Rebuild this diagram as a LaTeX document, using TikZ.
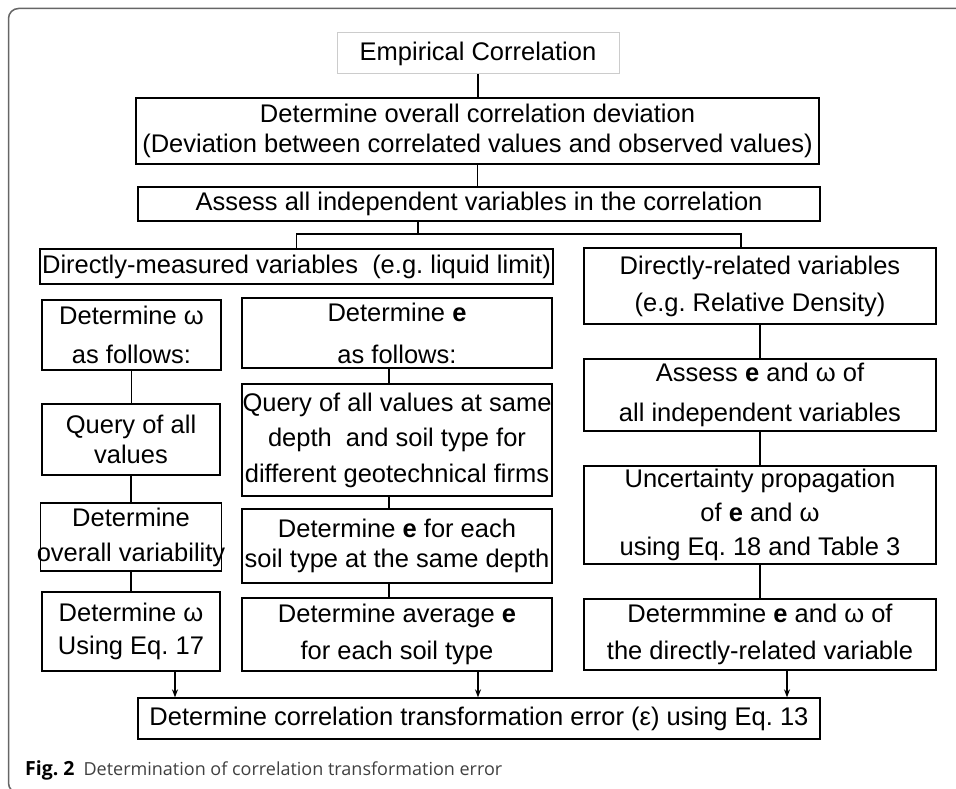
\documentclass[tikz,border=0pt]{standalone}
\usepackage{fontspec}
\setmainfont{Liberation Sans}
\newfontfamily\capfont{Open Sans}
\usetikzlibrary{arrows.meta}
\frenchspacing

\begin{document}
\begin{tikzpicture}[x=1pt,y=-1pt,
  box/.style={draw, line width=1.3pt, inner sep=0pt, align=center, font=\fontsize{25.5}{35}\selectfont},
  lh/.style={font=\fontsize{25.5}{#1}\selectfont},
  link/.style={line width=1.3pt},
  arr/.style={line width=1.3pt, -{Stealth[length=8pt,width=6pt]}}]
\useasboundingbox (0,0) rectangle (956,789);
\draw[line width=1.5pt, black!60, rounded corners=10pt] (990,8.5) -- (8.5,8.5) -- (8.5,793) -- (990,793);

\node[box, draw=black!20, line width=1pt, minimum width=282pt, minimum height=41pt] (emp) at (478,53.5) {Empirical Correlation};
\node[box, lh=30, minimum width=683pt, minimum height=66pt] (dev) at (477.5,131) {Determine overall correlation deviation\\(Deviation between correlated values and observed values)};
\node[box, minimum width=682pt, minimum height=34pt] (assess) at (479,204) {Assess all independent variables in the correlation};
\node[box, minimum width=513pt, minimum height=35pt] (meas) at (296.5,266.5) {Directly-measured variables\ \ (e.g. liquid limit)};
\node[box, lh=37, minimum width=352pt, minimum height=76pt] (rel) at (760,286) {Directly-related variables\\(e.g. Relative Density)};

\node[box, lh=39, minimum width=179pt, minimum height=70pt] (detw) at (131.5,335) {Determine ω\\as follows:};
\node[box, lh=30, minimum width=178pt, minimum height=71pt] (qryw) at (131,439.5) {Query of all\\values};
\node[box, lh=35, inner xsep=-4pt, minimum width=178pt, minimum height=68pt] (varw) at (131,537) {Determine\\overall variability};
\node[box, lh=33, minimum width=178pt, minimum height=79pt] (eqw) at (131,631.5) {Determine ω\\Using Eq. 17};

\node[box, lh=42, minimum width=310pt, minimum height=70pt] (dete) at (397,333) {Determine \textbf{e}\\as follows:};
\node[box, lh=35.5, minimum width=310pt, minimum height=112pt] (qrye) at (397,440) {Query of all values at same\\depth\ \ and soil type for\\different geotechnical firms};
\node[box, lh=30, minimum width=310pt, minimum height=74pt] (eache) at (397,546) {Determine \textbf{e} for each\\soil type at the same depth};
\node[box, lh=37, minimum width=310pt, minimum height=73pt] (avge) at (397,634.5) {Determine average \textbf{e}\\for each soil type};

\node[box, lh=40, minimum width=352pt, minimum height=72pt] (asse) at (760,395) {Assess \textbf{e} and ω of\\all independent variables};
\node[box, lh=34, minimum width=352pt, minimum height=98pt] (unc) at (760,515) {Uncertainty propagation\\of \textbf{e} and ω\\using Eq. 18 and Table 3};
\node[box, lh=37, minimum width=352pt, minimum height=71pt] (detr) at (760,634.5) {Determmine \textbf{e} and ω of\\the directly-related variable};

\node[box, minimum width=682pt, minimum height=41pt] (err) at (479,718.5) {Determine correlation transformation error (ε) using Eq. 13};

\draw[link] (emp.south) -- (emp.south |- dev.north);
\draw[link] (dev.south) -- (dev.south |- assess.north);
\coordinate (fork) at (418,234);
\coordinate (relin) at (741,0);
\coordinate (mid) at (389,0);
\draw[link] (fork |- assess.south) -- (fork);
\draw[link] (meas.north) |- (fork) -| (relin |- rel.north);
\foreach \a/\b in {detw/qryw, qryw/varw, varw/eqw, rel/asse, asse/unc, unc/detr}
  \draw[link] (\a.south) -- (\a.south |- \b.north);
\foreach \a/\b in {dete/qrye, qrye/eache, eache/avge}
  \draw[link] (mid |- \a.south) -- (mid |- \b.north);
\foreach \a/\x in {eqw/175, avge/478, detr/787}
  \draw[arr] (\x,0 |- \a.south) -- (\x,0 |- err.north);

\node[anchor=base west, inner sep=0pt, font=\capfont\fontsize{18}{20}\selectfont] (cap) at (25,775) {{\fontsize{19.5}{20}\selectfont\textbf{Fig. 2}}\hspace{9pt}\textcolor{black!75}{Determination of correlation transformation error}};
\end{tikzpicture}
\end{document}
